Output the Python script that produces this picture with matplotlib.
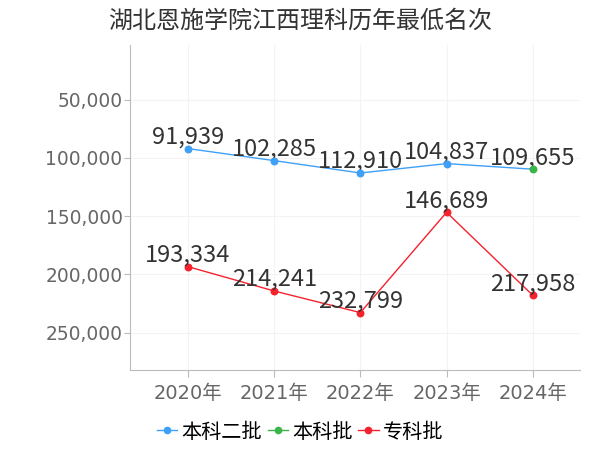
import numpy as np
import matplotlib.pyplot as plt
from matplotlib.ticker import FuncFormatter

plt.rcParams['font.family'] = ['DejaVu Sans', 'Noto Sans CJK SC']

years = ['2020年', '2021年', '2022年', '2023年', '2024年']
benke2 = [91939, 102285, 112910, 104837]       # 本科二批 2020-2023
benke = [109655]                                # 本科批 2024
zhuanke = [193334, 214241, 232799, 146689, 217958]

c_blue = '#3fa0f7'
c_green = '#3bb54a'
c_red = '#f5222d'

fig = plt.figure(figsize=(6, 4.5), dpi=100)
ax = fig.add_axes([0.217, 0.178, 0.75, 0.722])

x = np.arange(len(years))
# blue line runs on to the 2024 point
ax.plot(x, benke2 + benke, color=c_blue, lw=1, zorder=3)
ax.scatter(x[:4], benke2, color=c_blue, s=22, zorder=4)
ax.scatter(x[4:], benke, color=c_green, s=22, zorder=4)
ax.plot(x, zhuanke, color=c_red, lw=1, marker='o', ms=4.7, zorder=3)

lab_font = ['Noto Sans CJK SC', 'DejaVu Sans']
for xi, v in zip(x, benke2 + benke):
    ax.annotate(f'{v:,}', (xi, v), xytext=(0, 0), textcoords='offset points',
                ha='center', va='bottom', fontsize=17, color='#333333', family=lab_font)
for xi, v in zip(x, zhuanke):
    ax.annotate(f'{v:,}', (xi, v), xytext=(0, 0), textcoords='offset points',
                ha='center', va='bottom', fontsize=17, color='#333333', family=lab_font)

ax.set_ylim(282000, 3000)
ax.set_yticks([50000, 100000, 150000, 200000, 250000])
ax.yaxis.set_major_formatter(FuncFormatter(lambda v, p: f'{int(v):,}'))
ax.set_xlim(-0.67, 4.55)
ax.set_xticks(x)
ax.set_xticklabels(years)

ax.grid(True, color='#f3f3f3', lw=0.8)
ax.set_axisbelow(True)
for s in ['top', 'right']:
    ax.spines[s].set_visible(False)
ax.spines['left'].set_color('#bbbbbb')
ax.spines['bottom'].set_color('#bbbbbb')
ax.tick_params(axis='y', length=4, color='#bbbbbb', labelsize=13.4, labelcolor='#666666', pad=1.5)
ax.tick_params(axis='x', length=5, color='#bbbbbb', labelsize=14, labelcolor='#666666', pad=5)
for t in ax.get_xticklabels():
    t.set_family(['DejaVu Sans', 'Noto Sans CJK SC'])

fig.text(0.5, 0.955, '湖北恩施学院江西理科历年最低名次', ha='center', va='center',
         fontsize=17.3, color='#333333', family=['Noto Sans CJK SC', 'DejaVu Sans'])

h1, = ax.plot([], [], color=c_blue, lw=1, marker='o', ms=4.5)
h2, = ax.plot([], [], color=c_green, lw=1, marker='o', ms=4.5)
h3, = ax.plot([], [], color=c_red, lw=1, marker='o', ms=4.5)
fig.legend([h1, h2, h3], ['本科二批', '本科批', '专科批'], loc='center',
           bbox_to_anchor=(0.5, 0.04), ncol=3, frameon=False, handlelength=1.0,
           handletextpad=0.2, columnspacing=0.3,
           prop={'family': 'Noto Sans CJK SC', 'size': 14.5})

fig.savefig('out.png', dpi=100)
